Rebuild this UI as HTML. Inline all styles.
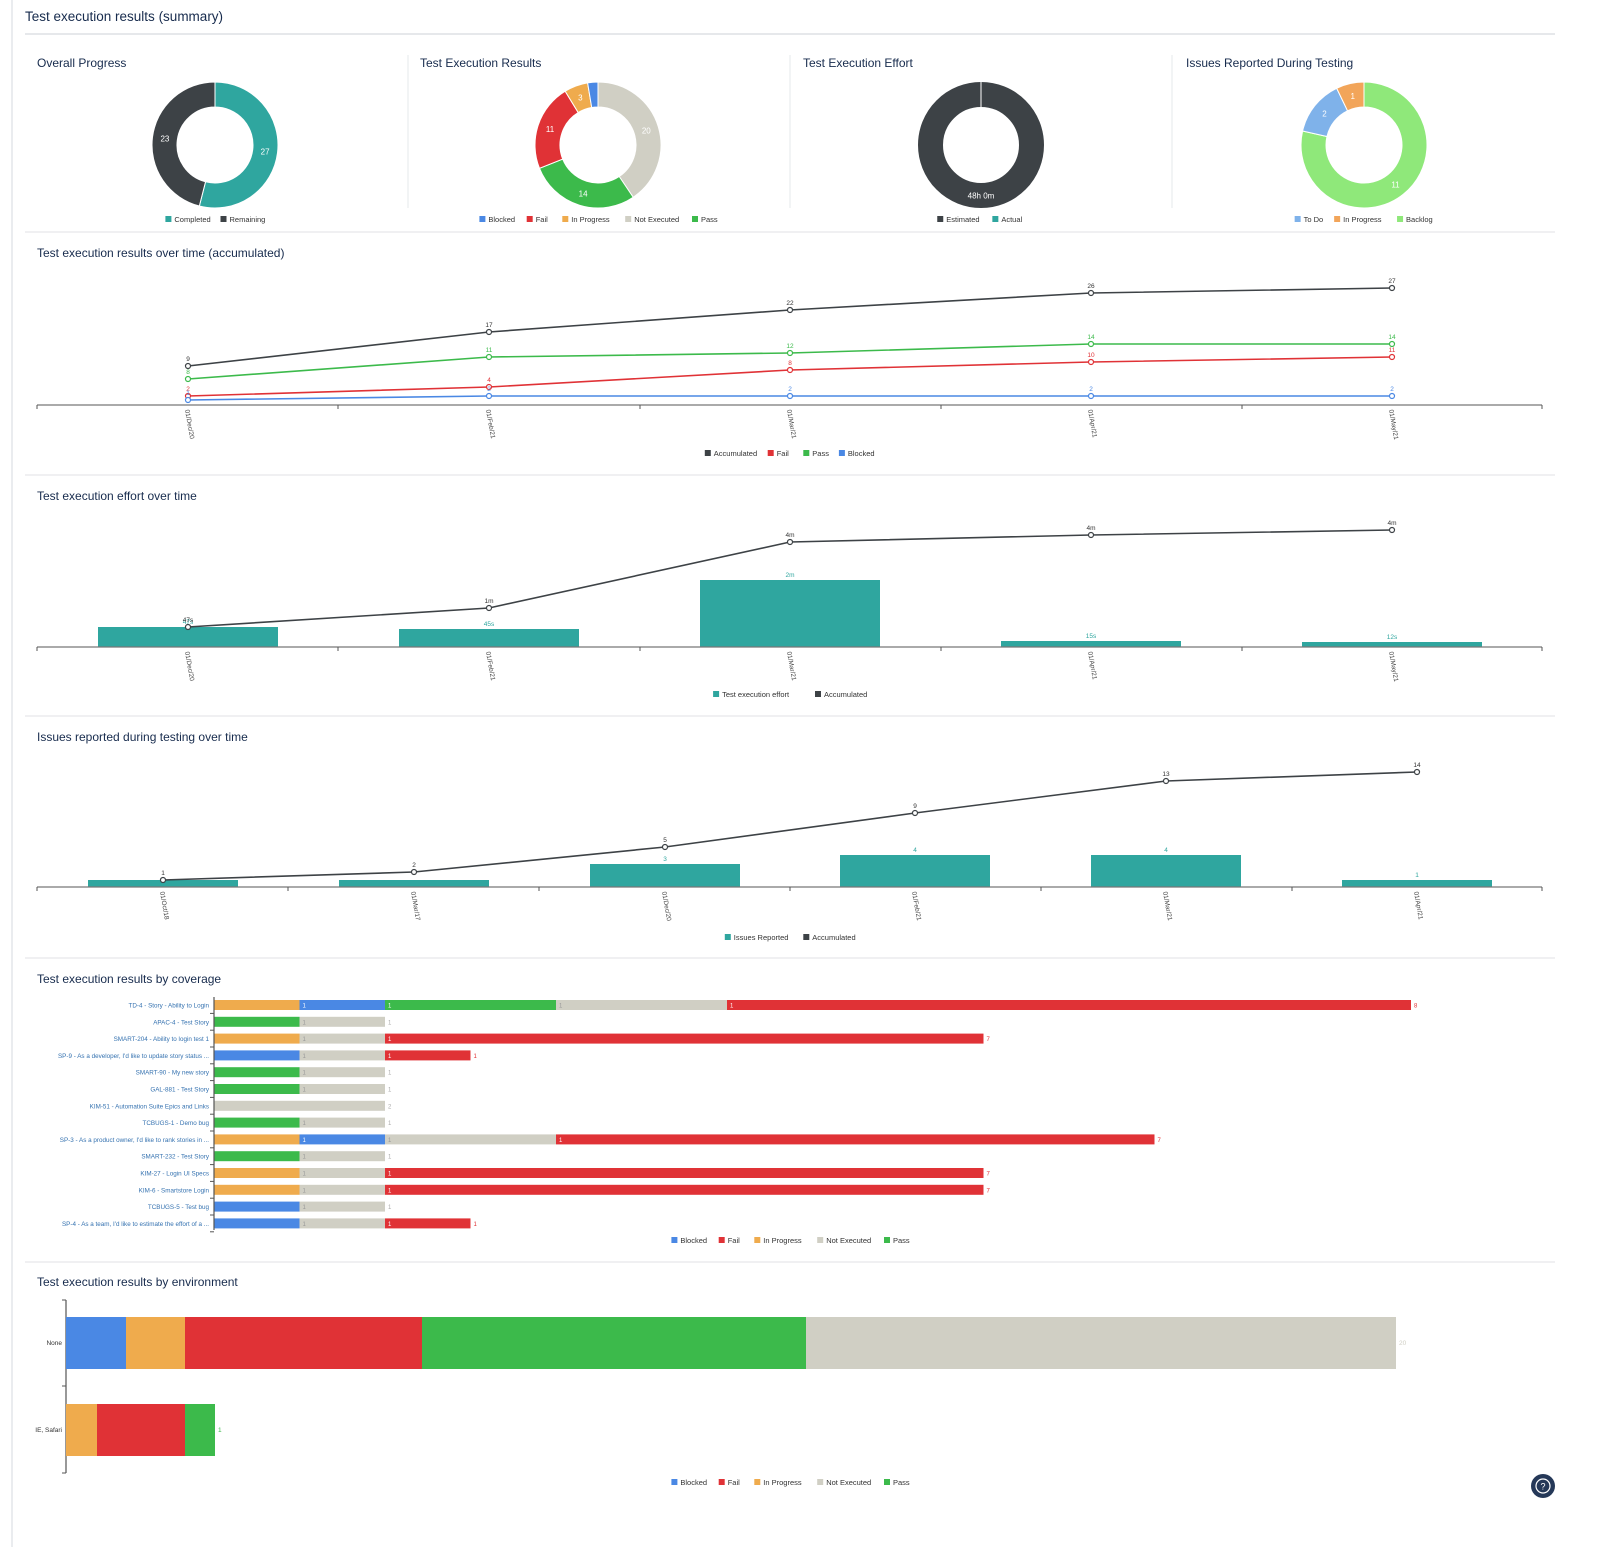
<!DOCTYPE html>
<html><head><meta charset="utf-8">
<style>
html,body{margin:0;padding:0;background:#fff;width:1600px;height:1547px;overflow:hidden}
svg{display:block;font-family:"Liberation Sans",sans-serif}
</style></head><body>
<svg id="s" width="1600" height="1547" viewBox="0 0 1600 1547" xmlns="http://www.w3.org/2000/svg"></svg>
<script>
const S=document.getElementById('s');let h='';
const C={teal:'#2fa69f',dark:'#3d4246',ne:'#d0cfc4',pass:'#3cba4b',fail:'#e03236',ip:'#efab4d',bl:'#4a88e4',bk:'#8fe87a',todo:'#7fb2ea',ip2:'#f2a55a'};
function t(x,y,s,sz,fill,extra){h+=`<text x="${x}" y="${y}" font-size="${sz}" fill="${fill||'#172b4d'}" ${extra||''}>${s}</text>`;}
function line(x1,y1,x2,y2,c,w){h+=`<line x1="${x1}" y1="${y1}" x2="${x2}" y2="${y2}" stroke="${c}" stroke-width="${w||1}"/>`;}
function rect(x,y,w,hh,c){h+=`<rect x="${x}" y="${y}" width="${w}" height="${hh}" fill="${c}"/>`;}
line(12,0,12,1547,'#e4e6ea',1.5);
t(25,21,'Test execution results (summary)',13.5,'#172b4d','font-weight="500"');
line(25,34,1555,34,'#d8dadf',1.2);
[232,475,716,958,1262].forEach(y=>line(25,y,1555,y,'#e6e8eb',1.2));
[408,790,1172].forEach(x=>line(x,55,x,208,'#e6e8eb',1));
function donut(cx,cy,segs){let tot=segs.reduce((a,b)=>a+b[0],0),a=-Math.PI/2;const R=63,r=38;
 segs.forEach(s=>{let a2=a+s[0]/tot*2*Math.PI;
  if(s[0]===tot){h+=`<circle cx="${cx}" cy="${cy}" r="${(R+r)/2}" fill="none" stroke="${s[1]}" stroke-width="${R-r}"/>`;}
  else{let L=(a2-a)>Math.PI?1:0;
  let p=[[cx+R*Math.cos(a),cy+R*Math.sin(a)],[cx+R*Math.cos(a2),cy+R*Math.sin(a2)],[cx+r*Math.cos(a2),cy+r*Math.sin(a2)],[cx+r*Math.cos(a),cy+r*Math.sin(a)]];
  h+=`<path d="M${p[0]}A${R},${R} 0 ${L} 1 ${p[1]}L${p[2]}A${r},${r} 0 ${L} 0 ${p[3]}Z" fill="${s[1]}" stroke="#fff" stroke-width="1"/>`;}
  if(s[2]){let m=(a+a2)/2;if(s[0]===tot)m=Math.PI/2;t(cx+50.5*Math.cos(m),cy+50.5*Math.sin(m)+3,s[2],8,'#fff','text-anchor="middle"');}
  a=a2;});}
function legend(cx,y,items){const cw=3.9,g=11;let w=items.reduce((a,i)=>a+i[0].length*cw+g+9,0)-g,x=cx-w/2;
 items.forEach(i=>{rect(x,y-6,6,6,i[1]);t(x+9,y,i[0],7.5,'#333');x+=i[0].length*cw+g+9;});}
t(37,67,'Overall Progress',12,'#172b4d');t(420,67,'Test Execution Results',12);t(803,67,'Test Execution Effort',12);t(1186,67,'Issues Reported During Testing',12);
donut(215,145,[[27,C.teal,'27'],[23,C.dark,'23']]);
donut(598,145,[[20,C.ne,'20'],[14,C.pass,'14'],[11,C.fail,'11'],[3,C.ip,'3'],[1.3,C.bl,'']]);
donut(981,145,[[1,C.dark,'48h 0m']]);line(981,82,981,107,'#fff',1);
donut(1364,145,[[11,C.bk,'11'],[2,C.todo,'2'],[1,C.ip2,'1']]);
legend(215,222,[['Completed',C.teal],['Remaining',C.dark]]);
legend(598,222,[['Blocked',C.bl],['Fail',C.fail],['In Progress',C.ip],['Not Executed',C.ne],['Pass',C.pass]]);
legend(981,222,[['Estimated',C.dark],['Actual',C.teal]]);
legend(1364,222,[['To Do',C.todo],['In Progress',C.ip2],['Backlog',C.bk]]);
function xaxis(y,bounds,centers,labels){line(37,y,1542,y,'#777',1.2);bounds.forEach(x=>line(x,y,x,y+4,'#555',1));
 centers.forEach((x,i)=>t(x-3,y+5,labels[i],6.5,'#444',`transform="rotate(80 ${x-3} ${y+5})"`));}
function series(xs,ys,c,labs){h+=`<polyline points="${xs.map((x,i)=>x+','+ys[i]).join(' ')}" fill="none" stroke="${c}" stroke-width="1.6"/>`;
 xs.forEach((x,i)=>{h+=`<circle cx="${x}" cy="${ys[i]}" r="2.5" fill="#fff" stroke="${c}" stroke-width="1.2"/>`;if(labs)t(x,ys[i]-5,labs[i],6.5,c==C.dark?'#333':c,'text-anchor="middle"');});}
t(37,257,'Test execution results over time (accumulated)',12);
let b5=[37,338,640,941,1242,1542],c5=[188,489,790,1091,1392],d5=['01/Dec/20','01/Feb/21','01/Mar/21','01/Apr/21','01/May/21'];
xaxis(405,b5,c5,d5);
series(c5,[366,332,310,293,288],C.dark,['9','17','22','26','27']);
series(c5,[379,357,353,344,344],C.pass,['8','11','12','14','14']);
series(c5,[396,387,370,362,357],C.fail,['2','4','8','10','11']);
series(c5,[400,396,396,396,396],C.bl,['1','2','2','2','2']);
legend(790,456,[['Accumulated',C.dark],['Fail',C.fail],['Pass',C.pass],['Blocked',C.bl]]);
t(37,500,'Test execution effort over time',12);
[627,629,580,641,642].forEach((y,i)=>{rect(c5[i]-90,y,180,647-y,C.teal);t(c5[i],y-3,['47s','45s','2m','15s','12s'][i],6.5,C.teal,'text-anchor="middle"');});
xaxis(647,b5,c5,d5);
series(c5,[627,608,542,535,530],C.dark,['47s','1m','4m','4m','4m']);
legend(790,697,[['Test execution effort',C.teal],['Accumulated',C.dark]]);
t(37,741,'Issues reported during testing over time',12);
let b6=[37,288,539,790,1041,1292,1542],c6=[163,414,665,915,1166,1417];
[880,880,864,855,855,880].forEach((y,i)=>{rect(c6[i]-75,y,150,887-y,C.teal);if(i>1)t(c6[i],y-3,['1','1','3','4','4','1'][i],6.5,C.teal,'text-anchor="middle"');});
xaxis(887,b6,c6,['01/Oct/18','01/Mar/17','01/Dec/20','01/Feb/21','01/Mar/21','01/Apr/21']);
series(c6,[880,872,847,813,781,772],C.dark,['1','2','5','9','13','14']);
legend(790,940,[['Issues Reported',C.teal],['Accumulated',C.dark]]);
t(37,983,'Test execution results by coverage',12);
const U=85.5,X0=214;
const rows=[['TD-4 - Story - Ability to Login',[['ip',1],['bl',1],['pass',2],['ne',2],['fail',8]]],
['APAC-4 - Test Story',[['pass',1],['ne',1]]],
['SMART-204 - Ability to login test 1',[['ip',1],['ne',1],['fail',7]]],
['SP-9 - As a developer, I\'d like to update story status ...',[['bl',1],['ne',1],['fail',1]]],
['SMART-90 - My new story',[['pass',1],['ne',1]]],
['GAL-881 - Test Story',[['pass',1],['ne',1]]],
['KIM-51 - Automation Suite Epics and Links',[['ne',2]]],
['TCBUGS-1 - Demo bug',[['pass',1],['ne',1]]],
['SP-3 - As a product owner, I\'d like to rank stories in ...',[['ip',1],['bl',1],['ne',2],['fail',7]]],
['SMART-232 - Test Story',[['pass',1],['ne',1]]],
['KIM-27 - Login UI Specs',[['ip',1],['ne',1],['fail',7]]],
['KIM-6 - Smartstore Login',[['ip',1],['ne',1],['fail',7]]],
['TCBUGS-5 - Test bug',[['bl',1],['ne',1]]],
['SP-4 - As a team, I\'d like to estimate the effort of a ...',[['bl',1],['ne',1],['fail',1]]]];
rows.forEach((r,i)=>{let y=1005+i*16.8,x=X0;t(209,y+2.5,r[0],6.3,'#3572b0','text-anchor="end"');line(X0-4,y+8.4,X0,y+8.4,'#555');
 r[1].forEach((s,j)=>{rect(x,y-5,s[1]*U,10,C[s[0]]);if(j>0)t(x+3,y+2.5,'1',6,s[0]=='ne'?'#999':'#fff');x+=s[1]*U;});
 let last=r[1][r[1].length-1];t(x+3,y+2.5,String(last[1]===7||last[1]===8?last[1]:(last[0]=='ne'&&last[1]==2&&r[1].length==1?2:1)),6,last[0]=='ne'?'#aaa':C[last[0]]);});
line(X0,997,X0,1230,'#555',1.2);
legend(790,1243,[['Blocked',C.bl],['Fail',C.fail],['In Progress',C.ip],['Not Executed',C.ne],['Pass',C.pass]]);
t(37,1286,'Test execution results by environment',12);
line(66,1300,66,1473,'#555',1.2);line(62,1300,66,1300,'#555');line(62,1386,66,1386,'#555');line(62,1473,66,1473,'#555');
t(62,1345,'None',6.5,'#333','text-anchor="end"');t(62,1432,'IE, Safari',6.5,'#333','text-anchor="end"');
[[66,126,'bl','2'],[126,185,'ip','2'],[185,422,'fail','9'],[422,806,'pass','13'],[806,1396,'ne','20']].forEach(s=>{rect(s[0],1317,s[1]-s[0],52,C[s[2]]);t(s[1]+3,1345,s[3],6.5,C[s[2]]);});
[[66,97,'ip','1'],[97,185,'fail','3'],[185,215,'pass','1']].forEach(s=>{rect(s[0],1404,s[1]-s[0],52,C[s[2]]);t(s[1]+3,1432,s[3],6.5,C[s[2]]);});
legend(790,1485,[['Blocked',C.bl],['Fail',C.fail],['In Progress',C.ip],['Not Executed',C.ne],['Pass',C.pass]]);
h+=`<circle cx="1543" cy="1486" r="12" fill="#253858"/><circle cx="1543" cy="1486" r="7" fill="none" stroke="#fff" stroke-width="1.2"/>`;
t(1543,1489.5,'?',9,'#fff','text-anchor="middle"');
S.innerHTML=h;
</script>
</body></html>
